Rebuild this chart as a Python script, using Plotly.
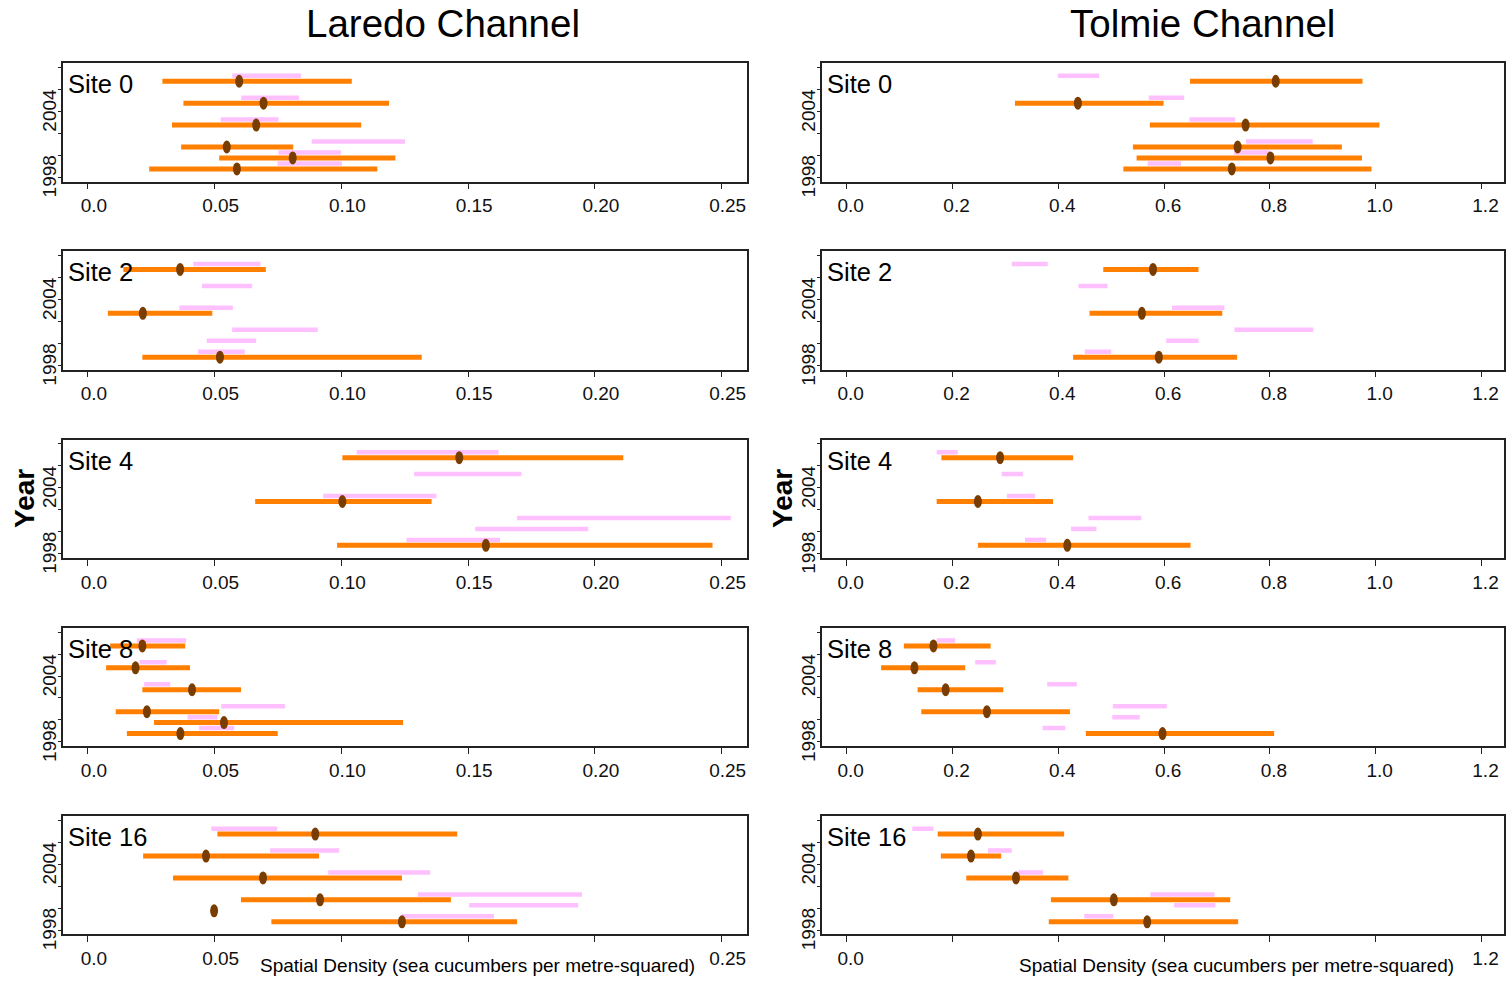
import plotly.graph_objects as go

# Survey years (rows of each panel, top to bottom)
years = [2007, 2005, 2003, 2001, 2000, 1999]
sites = ["Site 0", "Site 2", "Site 4", "Site 8", "Site 16"]
channels = ["Laredo Channel", "Tolmie Channel"]

# Laredo Channel: point estimate and confidence interval (orange), per site
laredo_est = [
    [0.0597, 0.0693, 0.0664, 0.0548, 0.0808, 0.0588],
    [0.0364, None, 0.0217, None, None, 0.0521],
    [0.1465, None, 0.1004, None, None, 0.1570],
    [0.0215, 0.0188, 0.0411, 0.0233, 0.0537, 0.0365],
    [0.0897, 0.0466, 0.0691, 0.0916, 0.0498, 0.1239],
]
laredo_lo = [
    [0.0294, 0.0377, 0.0332, 0.0368, 0.0518, 0.0242],
    [0.0140, None, 0.0079, None, None, 0.0215],
    [0.1004, None, 0.0660, None, None, 0.0983],
    [0.0088, 0.0072, 0.0215, 0.0110, 0.0261, 0.0154],
    [0.0511, 0.0218, 0.0336, 0.0604, None, 0.0724],
]
laredo_hi = [
    [0.1041, 0.1188, 0.1078, 0.0810, 0.1213, 0.1142],
    [0.0702, None, 0.0491, None, None, 0.1317],
    [0.2112, None, 0.1356, None, None, 0.2464],
    [0.0384, 0.0403, 0.0604, 0.0518, 0.1243, 0.0749],
    [0.1457, 0.0912, 0.1239, 0.1432, None, 0.1693],
]
# Laredo Channel: observed range (pink), per site
laredo_rng_lo = [
    [0.0570, 0.0605, 0.0524, 0.0883, 0.0752, 0.0748],
    [0.0416, 0.0450, 0.0361, 0.0569, 0.0469, 0.0435],
    [0.1060, 0.1287, 0.0928, 0.1693, 0.1528, 0.1257],
    [0.0193, 0.0204, 0.0222, 0.0526, 0.0393, 0.0439],
    [0.0487, 0.0719, 0.0948, 0.1302, 0.1504, 0.1239],
]
laredo_rng_hi = [
    [0.0841, 0.0833, 0.0752, 0.1251, 0.0998, 0.1002],
    [0.0681, 0.0648, 0.0572, 0.0907, 0.0664, 0.0619],
    [0.1620, 0.1710, 0.1375, 0.2536, 0.1974, 0.1626],
    [0.0388, 0.0311, 0.0325, 0.0778, 0.0511, 0.0577],
    [0.0747, 0.0991, 0.1350, 0.1949, 0.1934, 0.1602],
]

# Tolmie Channel: point estimate and confidence interval (orange), per site
tolmie_est = [
    [0.811, 0.437, 0.754, 0.739, 0.801, 0.728],
    [0.579, None, 0.558, None, None, 0.590],
    [0.290, None, 0.248, None, None, 0.417],
    [0.164, 0.128, 0.187, 0.265, None, 0.597],
    [0.248, 0.235, 0.320, 0.505, None, 0.568],
]
tolmie_lo = [
    [0.649, 0.318, 0.573, 0.541, 0.548, 0.523],
    [0.485, None, 0.459, None, None, 0.428],
    [0.179, None, 0.170, None, None, 0.248],
    [0.108, 0.065, 0.134, 0.141, None, 0.452],
    [0.172, 0.178, 0.226, 0.386, None, 0.382],
]
tolmie_hi = [
    [0.975, 0.599, 1.007, 0.936, 0.974, 0.992],
    [0.665, None, 0.710, None, None, 0.738],
    [0.428, None, 0.390, None, None, 0.650],
    [0.272, 0.224, 0.296, 0.422, None, 0.808],
    [0.411, 0.292, 0.419, 0.725, None, 0.740],
]
# Tolmie Channel: observed range (pink), per site
tolmie_rng_lo = [
    [0.399, 0.571, 0.648, 0.755, 0.732, 0.569],
    [0.312, 0.438, 0.615, 0.733, 0.604, 0.450],
    [0.170, 0.293, 0.303, 0.457, 0.424, 0.337],
    [0.170, 0.243, 0.379, 0.503, 0.502, 0.370],
    [0.124, 0.267, 0.324, 0.574, 0.619, 0.449],
]
tolmie_rng_hi = [
    [0.477, 0.638, 0.734, 0.881, 0.800, 0.632],
    [0.380, 0.493, 0.714, 0.882, 0.665, 0.500],
    [0.210, 0.333, 0.356, 0.557, 0.472, 0.377],
    [0.205, 0.282, 0.435, 0.605, 0.554, 0.413],
    [0.164, 0.312, 0.371, 0.695, 0.697, 0.504],
]

# Axis ticks (the bottom row leaves room for the axis title)
laredo_ticks = [0, 0.05, 0.10, 0.15, 0.20, 0.25]
laredo_ticktext = ["0.0", "0.05", "0.10", "0.15", "0.20", "0.25"]
laredo_ticktext_bottom = ["0.0", "0.05", "", "", "", "0.25"]
tolmie_ticks = [0, 0.2, 0.4, 0.6, 0.8, 1.0, 1.2]
tolmie_ticktext = ["0.0", "0.2", "0.4", "0.6", "0.8", "1.0", "1.2"]
tolmie_ticktext_bottom = ["0.0", "", "", "", "", "", "1.2"]
year_ticks = [1998, 2000, 2002, 2004, 2006, 2008]
year_ticktext = ["1998", "", "", "2004", "", ""]

# ---------------------------------------------------------------- styling
W = 1506
H = 996               # figure height
H_REF = 982           # height of the design grid used for positions below
FONT = "Liberation Sans, Arial, sans-serif"
ORANGE = "#ff7f00"
PINK = "#ffc0ff"
BROWN = "#7a3d00"
DODGE = 0.25          # vertical offset of the two intervals around the year

col_px = [(62.5, 747.0), (821.7, 1503.5)]
x_ranges = [[-0.01, 0.26], [-0.0473, 1.2416]]
x_label_shift = [6, 4]
row_top0, row_pitch, row_h = 63.3, 188.6, 118.6


def fy(px):
    """Row on the design grid (from the top) to paper fraction."""
    return 1 - px / H_REF


channel_data = [
    (laredo_est, laredo_lo, laredo_hi, laredo_rng_lo, laredo_rng_hi,
     laredo_ticks, laredo_ticktext, laredo_ticktext_bottom),
    (tolmie_est, tolmie_lo, tolmie_hi, tolmie_rng_lo, tolmie_rng_hi,
     tolmie_ticks, tolmie_ticktext, tolmie_ticktext_bottom),
]

fig = go.Figure()
layout = {}
shapes = []
annotations = []


def seg_xy(lo, hi, offset):
    xs, ys = [], []
    for a, b, yr in zip(lo, hi, years):
        if a is None or b is None:
            continue
        xs += [a, b, None]
        ys += [yr + offset, yr + offset, None]
    return xs, ys


for c, (est, lo, hi, rlo, rhi, xt, xtt, xtt_bot) in enumerate(channel_data):
    for r, site in enumerate(sites):
        n = c * len(sites) + r + 1
        xa, ya = f"x{n}", f"y{n}"
        top = row_top0 + r * row_pitch
        bot = top + row_h
        x0p, x1p = col_px[c]
        last_row = r == len(sites) - 1

        axis_common = dict(
            showline=True, mirror=True, linecolor="#222", linewidth=1.5,
            ticks="outside", tickcolor="#222", tickwidth=1,
            showgrid=False, zeroline=False,
            tickfont=dict(family=FONT, size=19, color="#111"),
        )
        layout[f"xaxis{n}"] = dict(
            axis_common, domain=[x0p / W, x1p / W], anchor=ya,
            range=x_ranges[c], tickvals=xt,
            ticktext=xtt_bot if last_row else xtt, ticklen=6,
            ticklabelshift=x_label_shift[c],
        )
        layout[f"yaxis{n}"] = dict(
            axis_common, domain=[fy(bot), fy(top)], anchor=xa,
            range=[1997.6, 2008.4], tickvals=year_ticks,
            ticktext=year_ticktext, tickangle=-90, ticklen=3,
            ticklabelstandoff=-6, ticklabelshift=2,
        )

        # pink range bars
        px_, py_ = seg_xy(rlo[r], rhi[r], DODGE)
        fig.add_trace(go.Scatter(
            x=px_, y=py_, xaxis=xa, yaxis=ya, mode="lines",
            line=dict(color=PINK, width=4.5), hoverinfo="skip",
            showlegend=False, connectgaps=False))
        # orange confidence bars
        ox_, oy_ = seg_xy(lo[r], hi[r], -DODGE)
        fig.add_trace(go.Scatter(
            x=ox_, y=oy_, xaxis=xa, yaxis=ya, mode="lines",
            line=dict(color=ORANGE, width=5), hoverinfo="skip",
            showlegend=False, connectgaps=False))
        # brown elliptical point estimates
        for e, yr in zip(est[r], years):
            if e is None:
                continue
            shapes.append(dict(
                type="circle", xref=xa, yref=ya,
                xsizemode="pixel", xanchor=e, x0=-4, x1=4,
                ysizemode="pixel", yanchor=yr - DODGE, y0=-6.5, y1=6.5,
                fillcolor=BROWN, line=dict(width=0), layer="above"))

        # site label
        annotations.append(dict(
            text=site, xref="paper", yref="paper",
            x=(x0p + 3.5) / W, y=fy(top + 21),
            xanchor="left", yanchor="middle", showarrow=False,
            font=dict(family=FONT, size=25.5, color="black")))

    # column title
    annotations.append(dict(
        text=channels[c], xref="paper", yref="paper",
        x=[443, 1202][c] / W, y=fy(24), xanchor="center",
        yanchor="middle", showarrow=False,
        font=dict(family=FONT, size=38.5, color="black")))
    # y-axis title
    annotations.append(dict(
        text="<b>Year</b>", xref="paper", yref="paper",
        x=[25, 783][c] / W, y=fy(500), xanchor="center",
        yanchor="middle", showarrow=False, textangle=-90,
        font=dict(family=FONT, size=28, color="black")))
    # x-axis title
    annotations.append(dict(
        text="Spatial Density (sea cucumbers per metre-squared)",
        xref="paper", yref="paper",
        x=[477, 1236][c] / W, y=fy(967), xanchor="center",
        yanchor="middle", showarrow=False,
        font=dict(family=FONT, size=19, color="black")))

fig.update_layout(
    width=W, height=H, margin=dict(l=0, r=0, t=0, b=0),
    paper_bgcolor="white", plot_bgcolor="white",
    shapes=shapes, annotations=annotations, showlegend=False,
    **layout,
)

fig.write_html("out.html")
